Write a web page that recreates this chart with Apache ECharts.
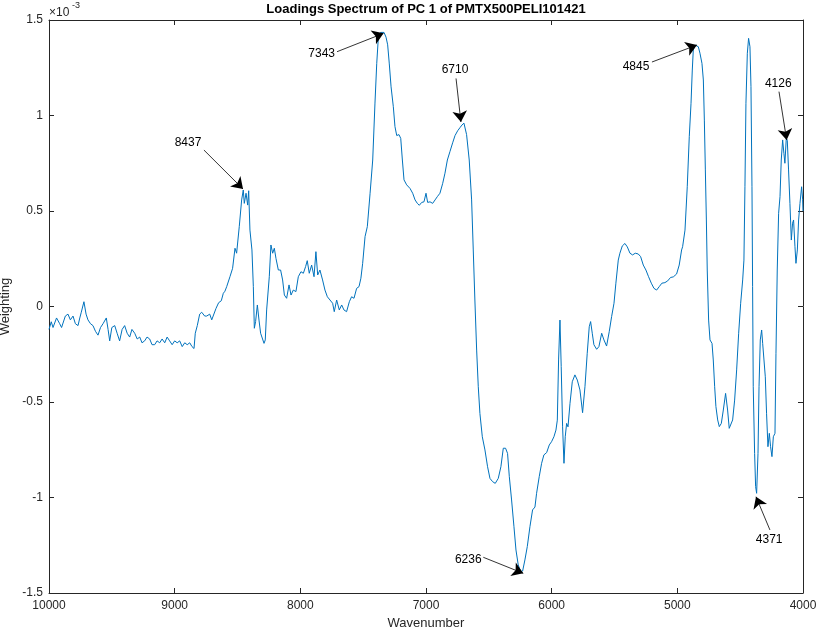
<!DOCTYPE html>
<html>
<head>
<meta charset="utf-8">
<script src="https://cdn.jsdelivr.net/npm/echarts@6/dist/echarts.min.js"></script>
<style>html,body{margin:0;padding:0;background:#fff;}#c{width:819px;height:634px;}</style>
</head>
<body>
<div id="c"></div>
<script>
// Wavenumber (descending) and PC1 loading weight (in units of 1e-3)
const wavenumber = [
10000,9982,9968,9955,9940,9928,9915,9900,9889,9870,9849,9830,9809,9790,9769,9755,9743,9722,9705,9690,
9670,9650,9630,9610,9590,9570,9544,9530,9517,9500,9477,9458,9438,9418,9398,9378,9358,9340,9318,9298,
9278,9260,9239,9220,9199,9180,9159,9140,9119,9100,9079,9060,9040,9020,9000,8980,8960,8940,8920,8900,
8880,8862,8846,8836,8820,8801,8785,8761,8745,8721,8705,8692,8671,8650,8629,8613,8600,8586,
8560,8539,8520,8507,8486,8467,8454,8446,8432,8419,8411,8401,8385,8374,8366,8356,8342,8329,8316,8302,
8289,8279,8268,8247,8234,8220,8207,8194,8175,8157,8141,8127,8109,8090,8074,8056,8035,8016,7995,7976,
7958,7945,7929,7910,7891,7876,7862,7844,7823,7804,7785,7764,7743,7730,7711,7690,7671,7653,7632,7610,
7592,7573,7552,7533,7518,7504,
7485,7467,7445,7424,7406,7392,7379,7361,7347,7334,7318,7305,7292,7278,7260,7247,7233,7215,7201,7188,
7175,7154,7127,7106,7087,7069,7053,7034,7016,7000,6987,6968,6947,6928,6910,6889,6867,6849,6830,6809,
6788,6769,6748,6729,6714,6698,6677,6656,6637,6624,6611,6597,6584,6571,6552,6531,6510,6491,6470,6449,
6425,6404,6385,6367,6351,6337,6319,6300,6284,6266,6247,6231,6213,6194,6173,6152,6133,6120,6099,6080,
6062,6040,6019,6001,5982,5966,5955,5945,5934,5924,5913,5902,5892,5881,5870,5854,5836,5815,5796,5775,
5754,5735,5717,5701,5690,5677,5664,5642,5624,5602,5584,5563,5542,5523,5504,5489,5470,5457,5438,5417,
5398,5377,5356,5335,5311,5292,5271,5250,5229,5207,5186,5165,5144,5123,5099,5077,5054,5032,5006,4985,
4966,4958,4939,4921,4905,4891,4881,4873,4860,4846,4833,4820,4804,4793,4785,4777,4769,4762,4751,4740,
4724,4714,4703,4693,4679,4666,4650,4634,4616,4600,4587,4573,4560,4544,4528,4512,4496,4480,4470,4462,
4454,4443,4433,4422,4414,4406,4401,4396,4385,4377,4369,4358,4350,4340,4329,4321,4311,4300,4290,4279,
4268,4258,4247,4236,4223,4215,4205,4194,4183,4173,4162,4152,4144,4133,4125,4115,4104,4093,4083,4075,
4064,4056,4045,4035,4024,4011,4003,4000
];
const weighting = [
-0.12,-0.08,-0.11,-0.10,-0.06,-0.05,-0.09,-0.11,-0.10,-0.05,-0.04,-0.07,-0.05,-0.09,-0.10,-0.06,-0.03,0.025,-0.04,-0.07,
-0.09,-0.10,-0.13,-0.15,-0.11,-0.09,-0.06,-0.12,-0.18,-0.11,-0.10,-0.14,-0.18,-0.12,-0.10,-0.14,-0.16,-0.12,-0.14,-0.17,
-0.16,-0.19,-0.18,-0.16,-0.17,-0.20,-0.20,-0.18,-0.19,-0.17,-0.19,-0.16,-0.18,-0.20,-0.18,-0.19,-0.18,-0.21,-0.19,-0.20,
-0.19,-0.21,-0.22,-0.14,-0.10,-0.04,-0.03,-0.05,-0.05,-0.04,-0.07,-0.07,-0.01,0.02,0.03,0.069,0.08,0.104,
0.156,0.20,0.305,0.279,0.418,0.558,0.61,0.54,0.593,0.531,0.606,0.40,0.296,0.104,-0.114,-0.079,0.008,-0.071,-0.14,-0.131,
-0.193,-0.175,-0.018,0.156,0.322,0.279,0.305,0.252,0.191,0.191,0.139,0.06,0.043,0.113,0.06,0.086,0.078,0.156,0.182,0.174,
0.209,0.24,0.174,0.217,0.156,0.287,0.165,0.191,0.139,0.086,0.051,0.034,0.017,-0.027,0.034,-0.018,0.008,-0.018,-0.027,0.025,
0.051,0.043,0.095,0.104,0.148,0.226,
0.366,0.418,0.593,0.767,1.065,1.273,1.41,1.435,1.43,1.435,1.41,1.37,1.27,1.15,1.046,0.942,0.895,0.90,0.88,0.767,
0.663,0.637,0.618,0.593,0.558,0.54,0.53,0.545,0.548,0.593,0.545,0.548,0.54,0.558,0.575,0.593,0.645,0.698,0.767,0.812,
0.857,0.895,0.92,0.937,0.950,0.960,0.90,0.767,0.558,0.296,0.034,-0.228,-0.42,-0.56,-0.682,-0.751,-0.839,-0.90,-0.917,-0.926,
-0.90,-0.839,-0.742,-0.742,-0.769,-0.891,-1.013,-1.153,-1.275,-1.353,-1.388,-1.385,-1.327,-1.257,-1.153,-1.065,-1.05,-0.978,-0.891,-0.821,
-0.777,-0.765,-0.725,-0.708,-0.682,-0.647,-0.595,-0.28,-0.071,-0.315,-0.63,-0.821,-0.682,-0.612,-0.63,-0.507,-0.394,-0.358,-0.385,-0.437,
-0.556,-0.42,-0.245,-0.106,-0.079,-0.14,-0.20,-0.224,-0.21,-0.14,-0.175,-0.207,-0.132,-0.053,0.017,0.122,0.243,0.279,0.317,0.33,
0.312,0.279,0.27,0.279,0.275,0.261,0.217,0.191,0.156,0.122,0.095,0.086,0.104,0.122,0.125,0.134,0.152,0.155,0.17,0.217,
0.296,0.313,0.40,0.627,0.889,1.064,1.238,1.343,1.369,1.374,1.36,1.326,1.273,1.186,0.976,0.715,0.453,0.191,-0.071,-0.175,
-0.193,-0.28,-0.42,-0.524,-0.594,-0.629,-0.612,-0.542,-0.455,-0.542,-0.638,-0.643,-0.594,-0.49,-0.332,-0.14,0.017,0.139,0.243,0.627,
1.064,1.326,1.404,1.36,1.151,0.627,0.104,-0.42,-0.769,-0.943,-0.978,-0.769,-0.42,-0.175,-0.123,-0.193,-0.193,-0.368,-0.559,-0.734,
-0.664,-0.734,-0.786,-0.682,-0.664,-0.245,0.191,0.488,0.575,0.767,0.872,0.802,0.75,0.881,0.87,0.715,0.54,0.348,0.436,0.453,
0.313,0.226,0.296,0.453,0.54,0.627,0.562,0.50
];
// Annotated peaks: label, peak wavenumber/weight
const peakLabels = ['8437','7343','6710','4845','4126','6236','4371'];
const peakWave   = [8456, 7338, 6722, 4844, 4130, 6226, 4374];
const peakWeight = [0.615, 1.43, 0.966, 1.369, 0.872, -1.397, -0.996];

// annotation layout (arrow tail and text anchor, in axis units)
const arrowTail = [[8767,0.819],[7708,1.334],[6761,1.194],[5202,1.28],[4191,1.125],[6544,-1.313],[4263,-1.17]];
const textAt    = [[8894,0.856],[7830,1.326],[6769,1.238],[5329,1.256],[4197,1.169],[6664,-1.327],[4269,-1.219]];

const FONT = 'Arial, "Liberation Sans", Helvetica, sans-serif';
const AX = '#262626';
const chart = echarts.init(document.getElementById('c'), null, {renderer:'canvas'});

const spectrum = wavenumber.map((w,i)=>[w, weighting[i]]);
const arrows = peakLabels.map((l,i)=>[{coord: arrowTail[i]}, {coord:[peakWave[i], peakWeight[i]]}]);
const texts = peakLabels.map((l,i)=>({coord: textAt[i], value: l}));

const xBase = {type:'value', min:4000, max:10000, interval:1000, inverse:true,
  axisLine:{show:true, onZero:false, lineStyle:{color:AX, width:1}}, splitLine:{show:false},
  axisTick:{show:true, inside:true, length:5, lineStyle:{color:AX}}};
const yBase = {type:'value', min:-1.5, max:1.5, interval:0.5,
  axisLine:{show:true, onZero:false, lineStyle:{color:AX, width:1}}, splitLine:{show:false},
  axisTick:{show:true, inside:true, length:5, lineStyle:{color:AX}}};

chart.setOption({
  animation:false,
  backgroundColor:'#fff',
  grid:{left:49, right:16, top:20, bottom:41, containLabel:false, outerBoundsMode:'none'},
  xAxis:[
    Object.assign({}, xBase, {position:'bottom', name:'Wavenumber', nameLocation:'middle', nameGap:23,
      nameTextStyle:{fontFamily:FONT, fontSize:13, color:AX},
      axisLabel:{show:true, margin:7, fontFamily:FONT, fontSize:12, color:AX, formatter:v=>String(v)}}),
    Object.assign({}, xBase, {position:'top', axisLabel:{show:false}})
  ],
  yAxis:[
    Object.assign({}, yBase, {position:'left', name:'Weighting', nameLocation:'middle', nameGap:33,
      nameTextStyle:{fontFamily:FONT, fontSize:13, color:AX},
      axisLabel:{show:true, margin:6, fontFamily:FONT, fontSize:12, color:AX, formatter:v=>String(v)}}),
    Object.assign({}, yBase, {position:'right', axisLabel:{show:false}})
  ],
  graphic:[
    {type:'text', x:426, y:9, style:{text:'Loadings Spectrum of PC 1 of PMTX500PELI101421', font:'bold 13px '+FONT, fill:'#000', align:'center', verticalAlign:'middle'}},
    {type:'text', x:49, y:13, style:{text:'\u00d710', font:'12px '+FONT, fill:AX, align:'left', verticalAlign:'middle'}},
    {type:'text', x:72, y:6, style:{text:'-3', font:'9px '+FONT, fill:AX, align:'left', verticalAlign:'middle'}}
  ],
  series:[{
    type:'line', xAxisIndex:0, yAxisIndex:0, data:spectrum, showSymbol:false, symbol:'none',
    lineStyle:{color:'#0072BD', width:1}, smooth:false, clip:true,
    markLine:{silent:true, symbol:['none','arrow'], symbolSize:11,
      lineStyle:{color:'#000', width:0.8, type:'solid'}, label:{show:false}, data:arrows},
    markPoint:{silent:true, symbol:'circle', symbolSize:0,
      label:{show:true, position:'inside', formatter:p=>p.value, fontFamily:FONT, fontSize:12, color:'#000'},
      data:texts}
  }]
});
</script>
</body>
</html>
